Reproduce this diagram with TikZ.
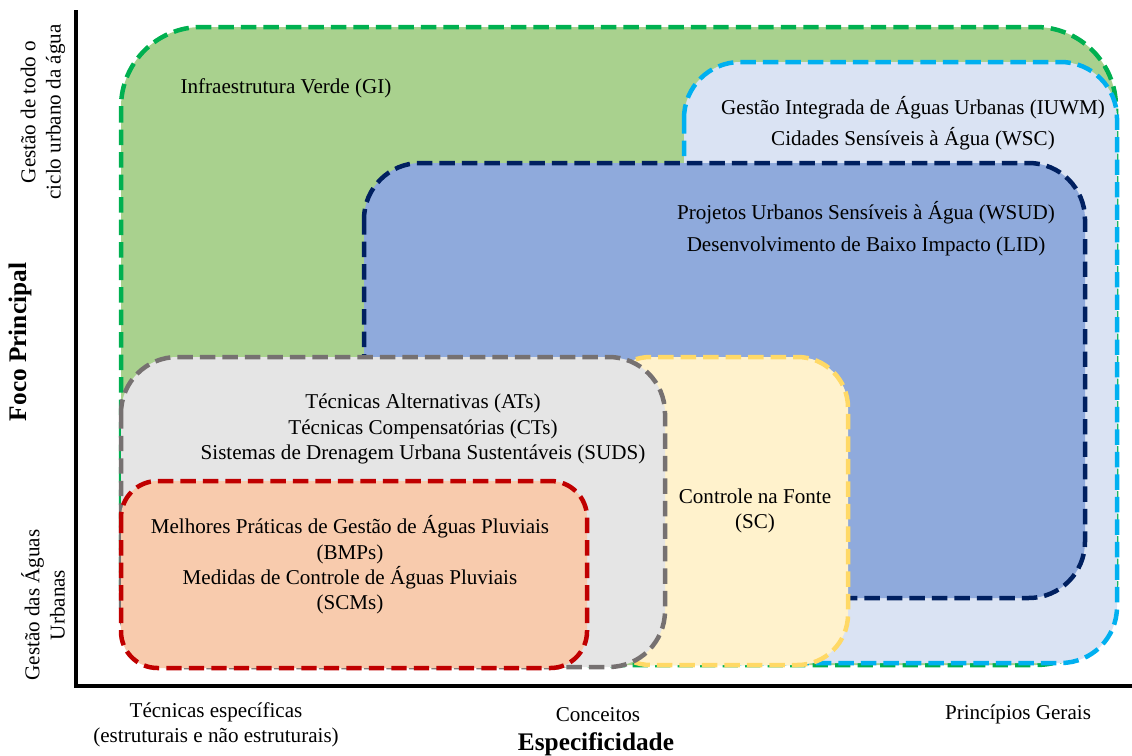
\documentclass[tikz,border=0pt]{standalone}
\usepackage{fontspec}
\setmainfont{Liberation Serif}
\usetikzlibrary{positioning}
\definecolor{verdeFundo}{HTML}{A9D18E}
\definecolor{verdeBorda}{HTML}{00B050}
\definecolor{celesteFundo}{HTML}{DAE3F3}
\definecolor{celesteBorda}{HTML}{00B0F0}
\definecolor{azulFundo}{HTML}{8FAADC}
\definecolor{azulBorda}{HTML}{002060}
\definecolor{amareloFundo}{HTML}{FFF2CC}
\definecolor{amareloBorda}{HTML}{FFD966}
\definecolor{cinzaFundo}{HTML}{E5E5E5}
\definecolor{cinzaBorda}{HTML}{767171}
\definecolor{vermelhoFundo}{HTML}{F8CBAD}
\definecolor{vermelhoBorda}{HTML}{C00000}

\begin{document}
\begin{tikzpicture}[x=0.025cm,y=-0.025cm,
    caixa/.style={line width=3.2pt, dash pattern=on 11pt off 5pt, rounded corners=#1},
    rotulo/.style={font=\fontsize{15}{18}\selectfont, align=center, inner sep=0pt},
    eixo/.style={line width=3.4pt, line cap=rect},
    titulo/.style={font=\fontsize{18}{21}\selectfont\bfseries, inner sep=0pt}]
    \useasboundingbox (0,0) rectangle (1132,756);

    % Caixas
    \filldraw[caixa=57pt, draw=verdeBorda, fill=verdeFundo] (121,27) rectangle (1116,665);
    \filldraw[caixa=40pt, draw=celesteBorda, fill=celesteFundo] (684,62) rectangle (1117,663);
    \filldraw[caixa=40pt, draw=azulBorda, fill=azulFundo] (364,163) rectangle (1085,598);
    \filldraw[caixa=36pt, draw=amareloBorda, fill=amareloFundo] (600,357) rectangle (848,665);
    \filldraw[caixa=40pt, draw=cinzaBorda, fill=cinzaFundo] (121,357) rectangle (665,667);
    \filldraw[caixa=26pt, draw=vermelhoBorda, fill=vermelhoFundo] (121,481) rectangle (587,668);

    % Textos das caixas
    \node[rotulo] (gi) at (286,88) {Infraestrutura Verde (GI)};
    \node[rotulo] (iuwm) at (913,123) {Gestão Integrada de Águas Urbanas (IUWM)\\[4pt]Cidades Sensíveis à Água (WSC)};
    \node[rotulo] (wsud) at (866,229) {Projetos Urbanos Sensíveis à Água (WSUD)\\[5pt]Desenvolvimento de Baixo Impacto (LID)};
    \node[rotulo] (ats) at (423,429) {Técnicas Alternativas (ATs)\\Técnicas Compensatórias (CTs)\\Sistemas de Drenagem Urbana Sustentáveis (SUDS)};
    \node[rotulo] (sc) at (755,511) {Controle na Fonte\\(SC)};
    \node[rotulo] (bmps) at (350,565) {Melhores Práticas de Gestão de Águas Pluviais\\(BMPs)\\Medidas de Controle de Águas Pluviais\\(SCMs)};

    % Eixos
    \coordinate (origem) at (76,686);
    \coordinate (topo) at (76,12);
    \coordinate (fim) at (1132,686);
    \draw[eixo] (topo) -- (origem) -- (fim);

    % Eixo horizontal
    \node[rotulo] (tecnicas) at (216,725) {Técnicas específicas\\(estruturais e não estruturais)};
    \node[rotulo] (conceitos) at (598,715) {Conceitos};
    \node[rotulo] (principios) at (1018,714) {Princípios Gerais};
    \node[titulo] (especificidade) at (596,744) {Especificidade};

    % Eixo vertical
    \node[titulo, rotate=90] (foco) at (20,342) {Foco Principal};
    \node[rotulo, rotate=90] (ciclo) at (43,112) {Gestão de todo o\\ciclo urbano da água};
    \node[rotulo, rotate=90] (aguas) at (43,605) {Gestão das Águas\\Urbanas};
\end{tikzpicture}
\end{document}
